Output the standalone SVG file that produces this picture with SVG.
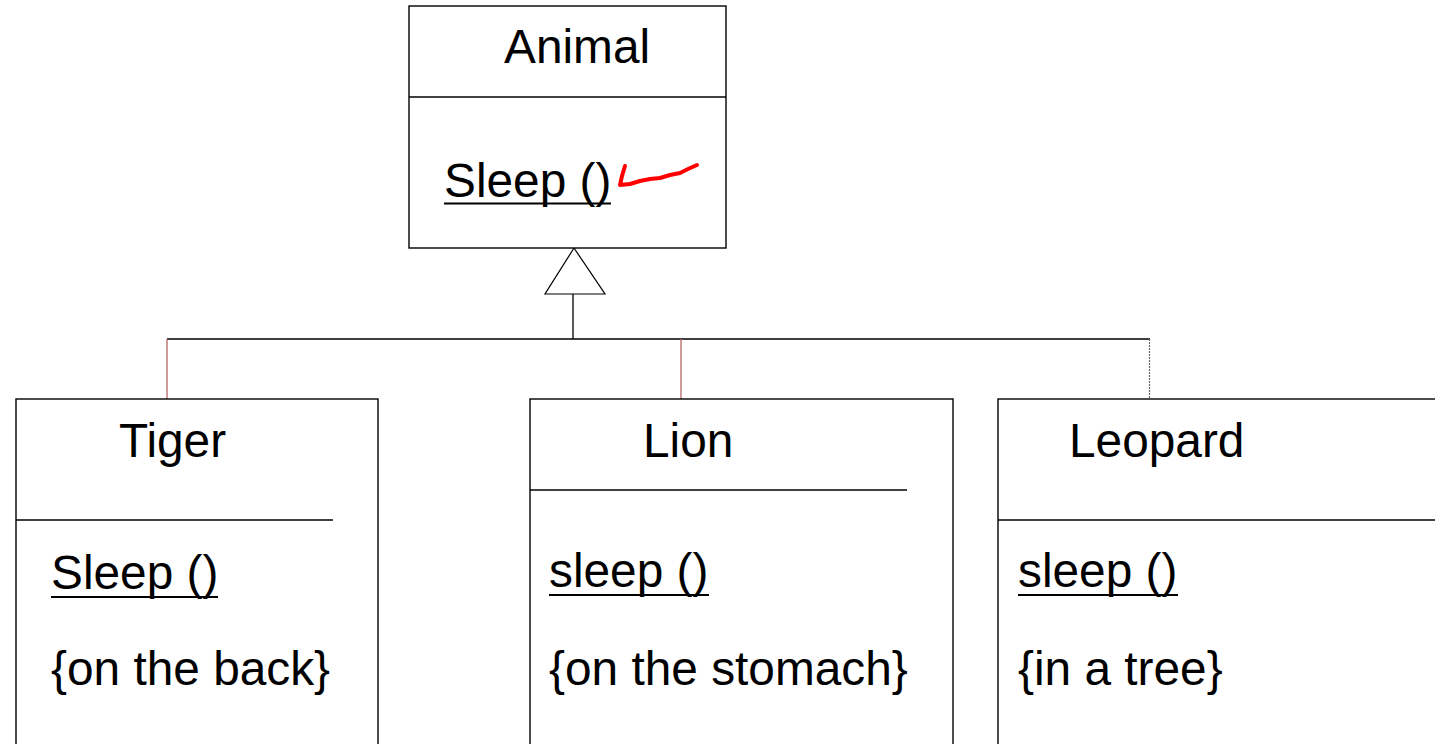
<svg xmlns="http://www.w3.org/2000/svg" width="1435" height="744" viewBox="0 0 1435 744">
<style>
.box{fill:#fff;stroke:#000;stroke-width:1.4}
.div{stroke:#000;stroke-width:1.4}
.t{font-family:"Liberation Sans",Arial,sans-serif;font-size:47.8px;fill:#000}
.u{stroke:#000;stroke-width:2.2}
.c{fill:none;stroke:#000;stroke-width:1.3}
</style>
<rect width="1435" height="744" fill="#fff"/>
<g id="connectors">
<polygon points="574,248 545,294 605,294" fill="#fff" stroke="#000" stroke-width="1.2"/>
<line x1="573" y1="294" x2="573" y2="339" class="c"/>
<line x1="167" y1="339" x2="1150" y2="339" class="c"/>
<line x1="167" y1="339" x2="167" y2="399" stroke="#b46464" stroke-width="1.3"/>
<line x1="681" y1="339" x2="681" y2="399" stroke="#b46464" stroke-width="1.3"/>
<line x1="1149.5" y1="339" x2="1149.5" y2="399" stroke="#666" stroke-width="1.2" stroke-dasharray="2,1"/>
</g>
<g id="animal">
<rect x="409" y="6" width="317" height="242" class="box"/>
<line x1="409" y1="97" x2="726" y2="97" class="div"/>
<text x="504" y="63" class="t">Animal</text>
<text x="444" y="197" class="t">Sleep ()</text>
<line x1="444" y1="203.5" x2="611" y2="203.5" class="u"/>
<path d="M625,166 L622,176 L620,185 L630,184 L640,181 L650,179 L660,178 L670,175 L680,173 L688,169 L697,165" fill="none" stroke="#f00" stroke-width="4" stroke-linecap="round" stroke-linejoin="round"/>
</g>
<g id="tiger">
<rect x="16" y="399" width="362" height="360" class="box"/>
<line x1="16" y1="520" x2="333" y2="520" class="div"/>
<text x="119" y="457" class="t">Tiger</text>
<text x="51" y="589" class="t">Sleep ()</text>
<line x1="51" y1="597" x2="218" y2="597" class="u"/>
<text x="51" y="685" class="t">{on the back}</text>
</g>
<g id="lion">
<rect x="530" y="399" width="423" height="360" class="box"/>
<line x1="530" y1="490" x2="907" y2="490" class="div"/>
<text x="643" y="457" class="t">Lion</text>
<text x="549" y="587" class="t">sleep ()</text>
<line x1="549" y1="595" x2="709" y2="595" class="u"/>
<text x="549" y="685" class="t">{on the stomach}</text>
</g>
<g id="leopard">
<rect x="998" y="399" width="460" height="360" class="box"/>
<line x1="998" y1="520" x2="1435" y2="520" class="div"/>
<text x="1069" y="457" class="t">Leopard</text>
<text x="1018" y="587" class="t">sleep ()</text>
<line x1="1018" y1="595" x2="1178" y2="595" class="u"/>
<text x="1018" y="685" class="t">{in a tree}</text>
</g>
</svg>
